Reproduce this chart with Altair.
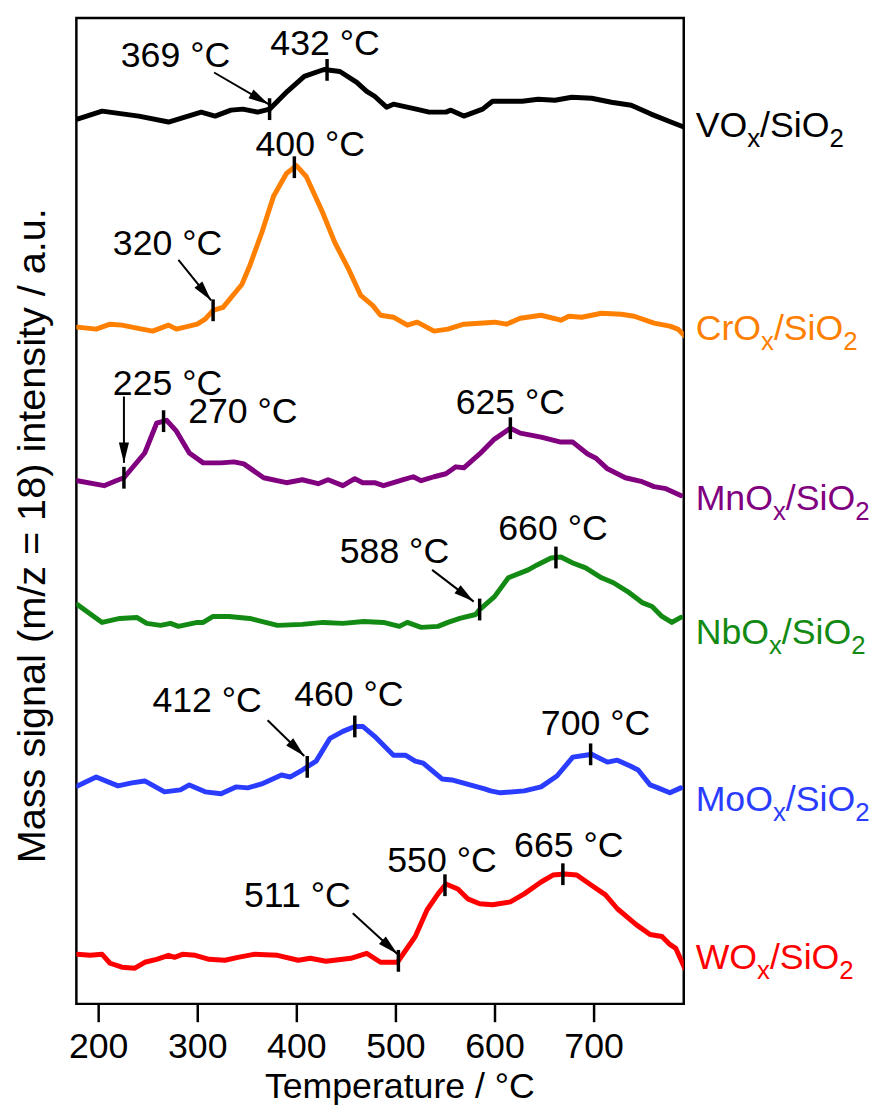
import math
import altair as alt
import numpy as np
import pandas as pd

# ---------------- data ----------------
series_names = ["VO_x/SiO_2", "CrO_x/SiO_2", "MnO_x/SiO_2", "NbO_x/SiO_2", "MoO_x/SiO_2", "WO_x/SiO_2"]
series_colors = ["#000000", "#ff8000", "#800080", "#138a13", "#2a3cff", "#ff0000"]

vo_T = [179, 204, 241, 271, 304, 318, 334, 346, 361, 373, 391, 408, 428, 444, 461, 471, 479, 491, 498, 521,
        534, 551, 556, 569, 588, 598, 628, 644, 661, 678, 698, 718, 738, 758, 778, 791]
vo_I = [89.3, 90.1, 89.6, 89.0, 90.0, 89.6, 90.2, 90.3, 90.0, 90.3, 92.1, 93.6, 94.3, 94.1, 93.0, 92.1, 91.6, 90.5, 90.8, 90.3,
        90.0, 90.0, 90.2, 89.6, 90.3, 91.1, 91.1, 91.3, 91.2, 91.5, 91.4, 91.0, 90.7, 89.8, 89.0, 88.5]

cr_T = [179, 198, 212, 224, 239, 255, 271, 279, 300, 308, 316, 326, 345, 353, 365, 377, 390, 400, 410, 426,
        439, 453, 465, 477, 485, 498, 512, 522, 539, 553, 569, 585, 600, 612, 626, 647, 667, 675, 688, 708,
        728, 741, 761, 777, 785, 792]
cr_I = [68.3, 68.1, 68.6, 68.5, 68.2, 67.9, 68.5, 68.1, 68.6, 69.1, 70.0, 70.3, 72.6, 74.5, 77.8, 81.5, 83.8, 84.6, 83.5, 80.0,
        76.8, 74.1, 71.5, 70.5, 69.5, 69.3, 68.5, 68.8, 67.9, 68.1, 68.6, 68.7, 68.8, 68.6, 69.2, 69.5, 69.0, 69.4, 69.3, 69.7,
        69.6, 69.4, 68.7, 68.4, 68.1, 67.4]

mn_T = [179, 206, 218, 226, 247, 259, 269, 279, 292, 306, 324, 337, 347, 367, 390, 406, 422, 432, 447, 459,
        467, 479, 488, 508, 518, 526, 539, 551, 561, 569, 585, 600, 616, 626, 647, 667, 679, 694, 702, 714,
        732, 749, 761, 773, 788]
mn_I = [52.8, 52.3, 52.8, 53.1, 55.6, 58.6, 58.9, 57.8, 55.6, 54.6, 54.6, 54.7, 54.5, 53.1, 52.6, 52.9, 52.5, 52.9, 52.3, 53.0,
        52.6, 52.6, 52.3, 52.9, 53.2, 52.8, 53.2, 53.5, 54.2, 54.1, 55.5, 57.0, 58.1, 57.6, 57.2, 56.7, 56.7, 55.5, 55.1, 54.0,
        53.1, 52.7, 52.2, 52.0, 51.3]

nb_T = [179, 190, 204, 222, 239, 249, 263, 273, 281, 300, 306, 316, 332, 353, 381, 406, 427, 447, 468, 488,
        504, 512, 526, 543, 553, 565, 581, 585, 600, 614, 634, 643, 657, 667, 679, 692, 708, 720, 736, 749,
        759, 769, 779, 788]
nb_I = [40.3, 39.5, 38.5, 38.9, 39.0, 38.4, 38.2, 38.4, 38.1, 38.5, 38.5, 39.1, 39.1, 38.9, 38.2, 38.3, 38.5, 38.4, 38.6, 38.5,
        38.1, 38.5, 38.0, 38.1, 38.5, 38.9, 39.3, 39.8, 41.1, 43.0, 43.8, 44.3, 45.0, 45.1, 44.5, 44.0, 43.0, 42.5, 41.5, 40.5,
        40.1, 39.1, 38.5, 39.0]

mo_T = [179, 198, 220, 234, 247, 267, 283, 292, 308, 324, 339, 351, 365, 385, 394, 406, 420, 434, 447, 459,
        467, 479, 498, 510, 520, 528, 547, 557, 590, 596, 606, 630, 647, 663, 679, 692, 698, 714, 724, 737,
        745, 757, 765, 777, 788]
mo_I = [22.0, 22.9, 22.0, 22.3, 22.5, 21.4, 21.6, 22.1, 21.4, 21.2, 21.9, 21.8, 22.2, 23.1, 22.9, 23.6, 24.5, 26.8, 27.5, 28.0,
        28.0, 27.0, 25.1, 25.1, 24.5, 24.3, 22.7, 22.6, 21.7, 21.5, 21.3, 21.5, 21.9, 23.0, 24.9, 25.1, 25.2, 24.4, 24.6, 24.0,
        23.6, 22.1, 21.8, 21.3, 21.8]

w_T = [179, 192, 204, 212, 224, 237, 247, 259, 271, 277, 285, 298, 312, 328, 341, 357, 381, 402, 414, 430,
       455, 471, 485, 502, 520, 532, 543, 551, 563, 573, 585, 598, 616, 630, 647, 659, 671, 683, 696, 712,
       724, 743, 757, 769, 777, 783, 792]
w_I = [5.0, 4.9, 5.0, 4.1, 3.7, 3.6, 4.2, 4.5, 4.9, 4.7, 5.0, 4.9, 4.5, 4.4, 4.7, 5.0, 4.9, 4.4, 4.6, 4.3,
       4.6, 5.1, 4.2, 4.2, 6.8, 9.5, 11.1, 12.1, 11.6, 10.6, 10.1, 10.0, 10.3, 11.1, 12.3, 13.0, 13.1, 13.0, 12.1, 11.0,
       9.6, 8.0, 7.0, 6.8, 6.0, 5.6, 3.6]

series_T = [vo_T, cr_T, mn_T, nb_T, mo_T, w_T]
series_I = [vo_I, cr_I, mn_I, nb_I, mo_I, w_I]
series_label_I = [87.5, 67.0, 49.8, 36.3, 19.5, 3.5]

# annotations: text, series index, marker temperature (as drawn), label anchor
ann_text = ["369 °C", "432 °C", "320 °C", "400 °C", "225 °C", "270 °C", "625 °C", "588 °C",
            "660 °C", "412 °C", "460 °C", "700 °C", "511 °C", "550 °C", "665 °C"]
ann_series = [0, 0, 1, 1, 2, 2, 2, 3, 3, 4, 4, 4, 5, 5, 5]
marker_T = [373, 431, 316, 398, 226, 266, 616, 585, 662, 411, 459, 697, 503, 550, 669]
label_T = [278, 429, 270, 414, 270, 346, 616, 499, 659, 310, 453, 702, 401, 547, 675]
label_I = [94.6, 95.8, 75.6, 85.6, 61.5, 58.6, 59.5, 44.5, 46.8, 29.5, 30.1, 27.1, 9.8, 13.3, 14.8]

# onset arrows (index into annotations), tip offset from marker, arrow vector (start -> tip)
arrow_ann = [0, 2, 4, 7, 9, 12]
tip_dT = [-1, -2, 0, -6, -3, -1]
tip_dI = [0.5, 1.0, 1.5, 0.8, 1.1, 0.7]
arrow_dT = [55, 33, 0, 42, 37, 45]
arrow_dI = [-3.2, -4.1, -6.7, -3.2, -3.6, -4.1]

x_ticks = [200, 300, 400, 500, 600, 700]

# ---------------- layout ----------------
W, H = 613, 995
XMIN, XMAX = 178, 791
YMIN, YMAX = 0, 99.5
kx = W / (XMAX - XMIN)
ky = H / (YMAX - YMIN)
FONT = "Liberation Sans"

xs = alt.Scale(domain=[XMIN, XMAX], nice=False, zero=False)
ys = alt.Scale(domain=[YMIN, YMAX], nice=False, zero=False)

X = alt.X("T:Q", scale=xs, axis=alt.Axis(
    values=x_ticks, title="Temperature / °C", grid=False, domain=False,
    tickSize=18, tickWidth=2.5, tickColor="black",
    labelFont=FONT, labelFontSize=36, labelColor="black", labelPadding=36,
    labelBaseline="alphabetic", labelFlush=False, labelOverlap=False,
    titleFont=FONT, titleFontSize=36, titleFontWeight="normal", titleColor="black",
    titleX=326, titleY=94, titleBaseline="alphabetic", titleAlign="center"))
Y = alt.Y("I:Q", scale=ys, axis=alt.Axis(
    title="Mass signal (m/z = 18) intensity / a.u.", grid=False, domain=False,
    labels=False, ticks=False,
    titleFont=FONT, titleFontSize=40, titleFontWeight="normal", titleColor="black",
    titleAngle=270, titleX=-44, titleY=522, titleBaseline="middle", titleAlign="center"))

# lines
rows = []
for name, Ts, Is in zip(series_names, series_T, series_I):
    for t, v in zip(Ts, Is):
        rows.append({"series": name, "T": t, "I": v})
lines_df = pd.DataFrame(rows)

lines = alt.Chart(lines_df).mark_line(strokeWidth=5, clip=True, strokeJoin="round", strokeCap="round").encode(
    x=X, y=Y,
    color=alt.Color("series:N", scale=alt.Scale(domain=series_names, range=series_colors), legend=None),
)

# markers
def curve_at(si, t):
    return float(np.interp(t, series_T[si], series_I[si]))

mk_rows = []
for si, t in zip(ann_series, marker_T):
    v = curve_at(si, t)
    mk_rows.append({"T": t, "I": v - 1.1, "I2": v + 1.1})
markers = alt.Chart(pd.DataFrame(mk_rows)).mark_rule(strokeWidth=3.5, color="black").encode(
    x="T:Q", y="I:Q", y2="I2:Q")

# arrows
ar_rows = []
for k, ai in enumerate(arrow_ann):
    t0 = marker_T[ai]
    v0 = curve_at(ann_series[ai], t0)
    tipT = t0 + tip_dT[k]
    tipI = v0 + tip_dI[k]
    sT = tipT - arrow_dT[k]
    sI = tipI - arrow_dI[k]
    dx = arrow_dT[k] * kx
    dy = -arrow_dI[k] * ky
    ang = math.degrees(math.atan2(dx, -dy)) % 360
    ar_rows.append({"T": sT, "I": sI, "T2": tipT, "I2": tipI, "angle": ang})
ar_df = pd.DataFrame(ar_rows)
shafts = alt.Chart(ar_df).mark_rule(strokeWidth=2, color="black").encode(
    x="T:Q", y="I:Q", x2="T2:Q", y2="I2:Q")
heads = alt.Chart(ar_df).mark_point(
    shape="M0,0L-0.5,2L0.5,2Z", filled=True, size=420, color="black", opacity=1, strokeWidth=0).encode(
    x=alt.X("T2:Q"), y=alt.Y("I2:Q"), angle=alt.Angle("angle:Q", scale=None))

# annotation labels
ann_df = pd.DataFrame({"T": label_T, "I": label_I, "text": ann_text})
ann_labels = alt.Chart(ann_df).mark_text(
    font=FONT, fontSize=36, align="center", baseline="alphabetic", color="black").encode(
    x="T:Q", y="I:Q", text="text:N")

# series labels on the right with subscripts
ARIAL_W = {"V": 667, "O": 778, "C": 722, "r": 333, "M": 833, "n": 556, "N": 722, "b": 556,
           "W": 944, "x": 500, "/": 278, "S": 667, "i": 222, "2": 556, "o": 556}
MAIN, SUB, SUBSHIFT, GAP = 36, 26, 10, 12

def pieces(name):
    out, buf, i = [], "", 0
    while i < len(name):
        if name[i] == "_":
            if buf:
                out.append((buf, False))
                buf = ""
            out.append((name[i + 1], True))
            i += 2
        else:
            buf += name[i]
            i += 1
    if buf:
        out.append((buf, False))
    return out

lab_rows = []
for name, color, ly in zip(series_names, series_colors, series_label_I):
    off = GAP
    for txt, sub in pieces(name):
        fs = SUB if sub else MAIN
        lab_rows.append({"T": XMAX + off / kx, "I": ly - (SUBSHIFT / ky if sub else 0),
                         "text": txt, "fs": fs, "col": color})
        off += sum(ARIAL_W.get(c, 556) for c in txt) / 1000 * fs
lab_df = pd.DataFrame(lab_rows)
series_labels = alt.Chart(lab_df).mark_text(font=FONT, align="left", baseline="alphabetic").encode(
    x="T:Q", y="I:Q", text="text:N",
    size=alt.Size("fs:Q", scale=None),
    fill=alt.Fill("col:N", scale=None))

chart = alt.layer(lines, markers, shafts, heads, ann_labels, series_labels).properties(
    width=W, height=H,
    autosize=alt.AutoSizeParams(type="none"),
    padding={"left": 69, "top": 5, "right": 192, "bottom": 100},
    background="white",
).configure_view(stroke="black", strokeWidth=2.5)

chart.save("out.html", embed_options={"renderer": "svg", "actions": False})
